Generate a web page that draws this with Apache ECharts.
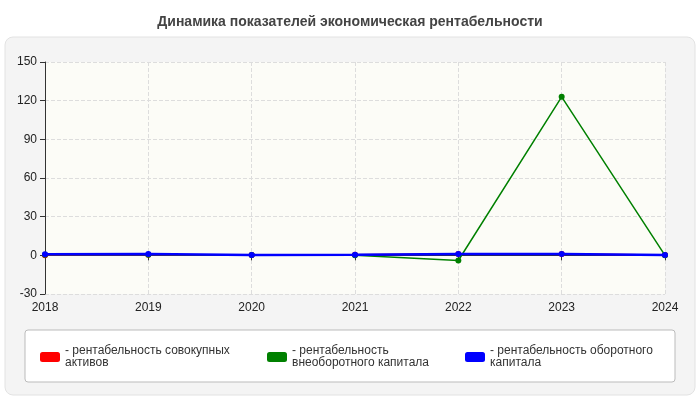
<!DOCTYPE html>
<html lang="ru">
<head>
<meta charset="UTF-8">
<title>Рентабельность</title>
<style>
    html, body { margin: 0; padding: 0; background: #fff; }
    #chart { width: 700px; height: 400px; }
</style>
</head>
<body>
<div id="chart"></div>
<script src="https://cdn.jsdelivr.net/npm/echarts@6/dist/echarts.min.js"></script>
<script>
    // данные
    var years = ['2018', '2019', '2020', '2021', '2022', '2023', '2024'];
    var assets = [0, 0.5, 0.3, 0.5, 1, 1, 0.3];
    var nonCurrent = [0.5, 0.5, 0.2, 0, -4, 123, 0];
    var current = [0.8, 1, 0.3, 0.5, 1, 1, 0.3];
    var yTicks = { min: -30, max: 150, interval: 30 };

    var names = ['совокупных', 'внеоборотного', 'оборотного'];
    var labels = {
        'совокупных': '- рентабельность совокупных\nактивов',
        'внеоборотного': '- рентабельность\nвнеоборотного капитала',
        'оборотного': '- рентабельность оборотного\nкапитала'
    };
    var font = 'Liberation Sans';

    var chart = echarts.init(document.getElementById('chart'));

    function line(name, data, color, z) {
        return {
            name: name, type: 'line', data: data, z: z,
            symbol: 'circle', symbolSize: 6,
            itemStyle: { color: color },
            lineStyle: { color: color, width: z === 4 ? 2.5 : 1.5 }
        };
    }

    function legend(name, left) {
        return {
            data: [name], left: left, top: 340, orient: 'vertical',
            icon: 'roundRect', itemWidth: 20, itemHeight: 10, itemGap: 4,
            textStyle: { fontSize: 12, color: '#333', lineHeight: 12, fontFamily: font },
            formatter: function (n) { return labels[n]; }
        };
    }

    chart.setOption({
        textStyle: { fontFamily: font },
        title: {
            text: 'Динамика показателей экономическая рентабельности',
            left: 'center', top: 10,
            textStyle: { fontSize: 14, fontWeight: 'bold', color: '#444', fontFamily: font }
        },
        graphic: [
            { type: 'rect', z: -10, shape: { x: 5, y: 37, width: 690, height: 358, r: 8 },
              style: { fill: '#f4f4f4', stroke: '#e2e2e2' } },
            { type: 'rect', z: -9, shape: { x: 25, y: 330, width: 650, height: 52, r: 3 },
              style: { fill: '#fff', stroke: '#bbb' } }
        ],
        legend: [
            legend(names[0], 35),
            legend(names[1], 262),
            legend(names[2], 460)
        ],
        grid: { left: 45, right: 35, top: 62, bottom: 106, show: true,
                backgroundColor: '#fcfcf7', borderWidth: 0 },
        xAxis: {
            type: 'category', data: years, boundaryGap: false,
            axisLine: { lineStyle: { color: '#333' } },
            axisTick: { show: true, lineStyle: { color: '#333' } },
            axisLabel: { color: '#222', fontSize: 12, fontFamily: font },
            splitLine: { show: true, lineStyle: { type: 'dashed', color: '#ddd' } }
        },
        yAxis: {
            type: 'value', min: yTicks.min, max: yTicks.max, interval: yTicks.interval,
            axisLine: { show: true, lineStyle: { color: '#333' } },
            axisTick: { show: true, lineStyle: { color: '#333' } },
            axisLabel: { color: '#222', fontSize: 12, fontFamily: font },
            splitLine: { lineStyle: { type: 'dashed', color: '#ddd' } }
        },
        series: [
            line(names[0], assets, '#ff0000', 2),
            line(names[1], nonCurrent, '#008000', 3),
            line(names[2], current, '#0000ff', 4)
        ]
    });
</script>
</body>
</html>
